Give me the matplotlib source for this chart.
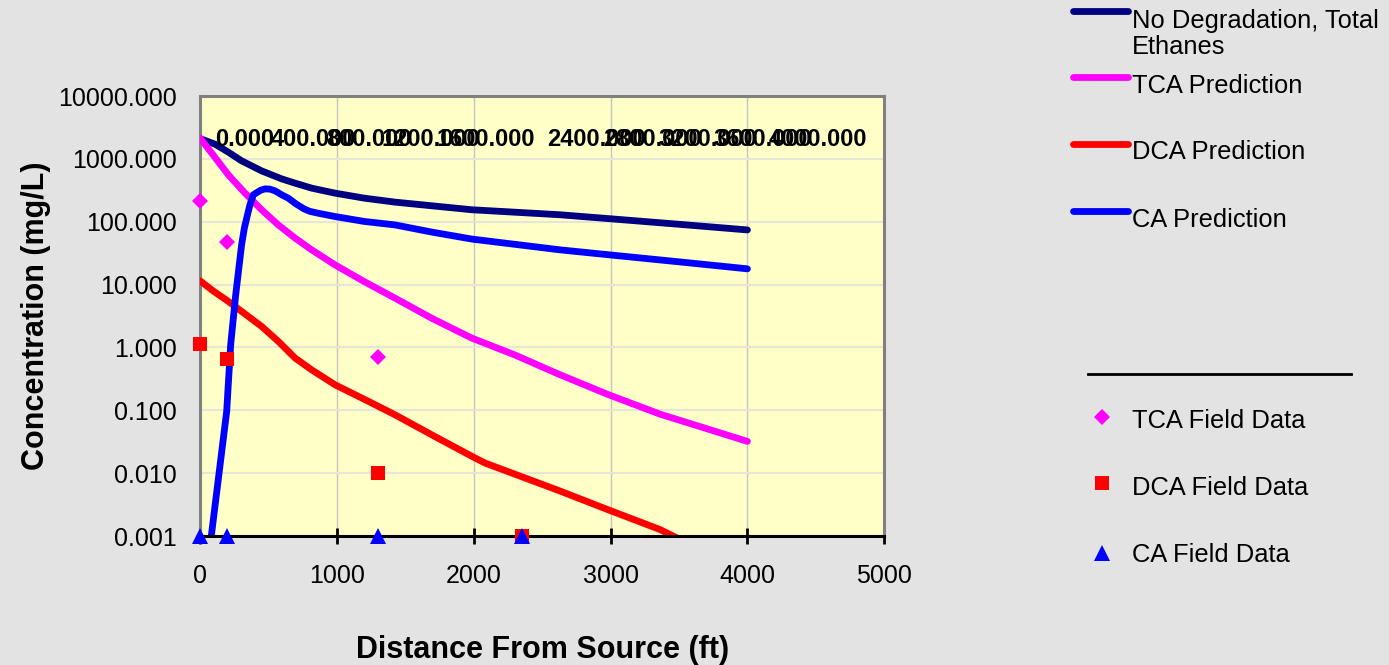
import matplotlib
matplotlib.use("Agg")
import matplotlib.pyplot as plt
import matplotlib.transforms as mtransforms
from matplotlib.lines import Line2D
from matplotlib.ticker import FixedLocator, FuncFormatter, NullLocator

plt.rcParams['font.family'] = ['Liberation Sans', 'DejaVu Sans']

# ---- model predictions ----
dist_nodeg = [0, 110, 207, 304, 450, 597, 694, 816, 986, 1200, 1424, 1985, 2630, 2985, 3500, 4000]
nodeg = [2100, 1713, 1278, 930, 644, 480, 411, 342, 285, 237, 205, 155, 129, 112, 91, 74]

dist_tca = [0, 110, 207, 329, 450, 572, 694, 816, 986, 1205, 1424, 1695, 1985, 2300, 2630,
            2985, 3360, 4000]
tca_pred = [2150, 1052, 557, 285, 155, 89, 55, 35.7, 20.6, 11, 6.1, 2.9, 1.41, 0.76, 0.368,
            0.177, 0.087, 0.032]

dist_dca = [0, 97, 207, 450, 572, 694, 816, 986, 1205, 1424, 1700, 1985, 2082, 2630, 2985,
            3360, 3600, 4000]
dca_pred = [11.5, 7.9, 5.4, 2.16, 1.25, 0.68, 0.44, 0.255, 0.148, 0.085, 0.04, 0.0186, 0.0145,
            0.0052, 0.0026, 0.00127, 0.0007, 0.0003]

dist_ca = [70, 195, 224, 261, 304, 324, 353, 365, 390, 414, 445, 475, 510, 548, 597, 645, 700,
           760, 803, 860, 986, 1200, 1424, 1700, 1985, 2630, 2985, 3500, 4000]
ca_pred = [0.0006, 0.096, 1.10, 6.9, 43, 79, 146, 186, 268, 290, 318, 333, 330, 310, 268, 237,
           193, 160, 146, 137, 121, 101, 89, 68, 53, 35.7, 29.8, 23, 17.8]

# ---- field data ----
field_x_tca = [0, 200, 1300]
tca_field = [210, 47, 0.70]
field_x_dca = [0, 200, 1300, 2350]
dca_field = [1.15, 0.65, 0.010, 0.001]
field_x_ca = [0, 200, 1300, 2350]
ca_field = [0.001, 0.001, 0.001, 0.001]

# overlapping distance labels (left over secondary axis in the original workbook)
sec_ticks = [0, 400, 800, 1200, 1600, 2400, 2800, 3200, 3600, 4000]

x_ticks = [0, 1000, 2000, 3000, 4000, 5000]
y_ticks = [0.001, 0.01, 0.1, 1, 10, 100, 1000, 10000]

line_labels = ['No Degradation, Total\nEthanes', 'TCA Prediction', 'DCA Prediction', 'CA Prediction']
line_colors = ['#000080', '#ff00ff', '#ff0000', '#0000ff']
point_labels = ['TCA Field Data', 'DCA Field Data', 'CA Field Data']
point_colors = ['#ff00ff', '#ff0000', '#0000ff']
point_markers = ['D', 's', '^']
point_sizes = [7.8, 10, 11]

W, H = 1389, 665
fig = plt.figure(figsize=(W / 100, H / 100), dpi=100, facecolor='#e3e3e3')
ax = fig.add_axes([200 / W, (H - 536) / H, 684.3 / W, 440 / H])
ax.set_facecolor('#ffffc8')

lw = 4.9
curves = [(dist_nodeg, nodeg), (dist_tca, tca_pred), (dist_dca, dca_pred), (dist_ca, ca_pred)]
for (xs, ys), c in zip(curves, line_colors):
    ax.plot(xs, ys, color=c, lw=lw, solid_capstyle='round', solid_joinstyle='round', zorder=3)

fields = [(field_x_tca, tca_field), (field_x_dca, dca_field), (field_x_ca, ca_field)]
for i, ((xs, ys), c, m, ms) in enumerate(zip(fields, point_colors, point_markers, point_sizes)):
    ax.plot(xs, ys, ls='none', marker=m, ms=ms, color=c, mec=c, mew=0,
            clip_on=False, zorder=5 + i)

ax.set_yscale('log')
ax.set_xlim(0, 5000)
ax.set_ylim(0.001, 10000)
ax.yaxis.set_major_locator(FixedLocator(y_ticks))
ax.yaxis.set_minor_locator(NullLocator())
ax.yaxis.set_major_formatter(FuncFormatter(lambda v, p: f'{v:.3f}'))
ax.set_xticks(x_ticks)

ax.tick_params(axis='y', length=0, pad=16.5, labelsize=18)
ax.tick_params(axis='x', direction='inout', length=11.5, width=2, pad=14.5, labelsize=18)

ax.xaxis.grid(True, color='#c4c4c4', lw=1)
ax.yaxis.grid(True, color='#e6e6d8', lw=1.5)
ax.set_axisbelow(True)

for side in ['left', 'top', 'right']:
    ax.spines[side].set_color('#808080')
    ax.spines[side].set_linewidth(2.2)
ax.spines['bottom'].set_color('black')
ax.spines['bottom'].set_linewidth(2.2)
ax.spines['bottom'].set_zorder(4)

ax.set_xlabel('Distance From Source (ft)', fontsize=22, fontweight='bold')
ax.set_ylabel('Concentration (mg/L)', fontsize=22, fontweight='bold')
ax.xaxis.set_label_coords(0.5, -0.224)
ax.yaxis.set_label_coords(-0.218, 0.5)

# secondary distance scale: its labels sit inside the plot and overlap
ax2 = ax.twiny()
ax2.set_xlim(-108, 4832)
ax2.set_axis_off()
trans = mtransforms.blended_transform_factory(ax2.transData, ax.transAxes)
for v in sec_ticks:
    ax2.text(v, 1 - 44 / 440, f'{v:.3f}', transform=trans, ha='left', va='center',
             fontsize=17, fontweight='bold', zorder=10)

# legend, drawn by hand in figure pixels
def fx(x):
    return x / W

def fy(y):
    return 1 - y / H

handle_y = [11, 77, 144, 211]
text_base = [54.3, 92.7, 159.3, 226.7]   # baseline of the last text line
for lab, c, hy, tb in zip(line_labels, line_colors, handle_y, text_base):
    fig.add_artist(Line2D([fx(1073), fx(1128)], [fy(hy), fy(hy)], color=c, lw=lw,
                          solid_capstyle='round', transform=fig.transFigure))
    fig.text(fx(1131.7), fy(tb), lab, fontsize=18.4, va='baseline', ha='left', linespacing=1.1)

fig.add_artist(Line2D([fx(1088), fx(1351)], [fy(374), fy(374)], color='black', lw=2,
                      transform=fig.transFigure))

point_y = [416.7, 483.3, 552.7]
point_base = [427.7, 495, 561.7]
for lab, c, m, ms, py, tb in zip(point_labels, point_colors, point_markers, point_sizes, point_y, point_base):
    fig.add_artist(Line2D([fx(1102.3)], [fy(py)], ls='none', marker=m, ms=ms, color=c, mew=0,
                          transform=fig.transFigure))
    fig.text(fx(1131.7), fy(tb), lab, fontsize=18.4, va='baseline', ha='left')

fig.savefig('out.png', dpi=100, facecolor=fig.get_facecolor())
